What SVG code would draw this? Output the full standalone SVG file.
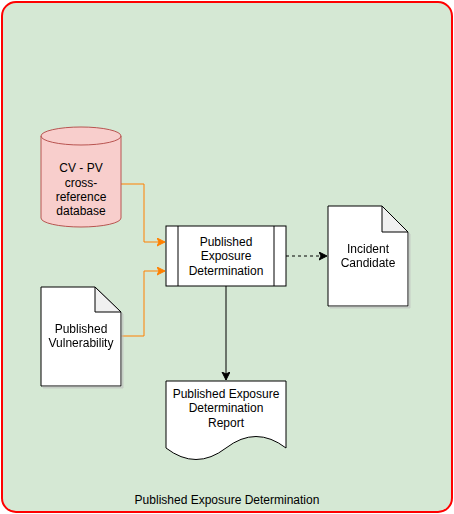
<svg xmlns="http://www.w3.org/2000/svg" width="454" height="514" viewBox="0 0 454 514">
<style>
text{font-family:"Liberation Sans",Arial,sans-serif;font-size:12px;fill:#000;text-anchor:middle}
.doc{fill:#fff;stroke:#000;stroke-width:1}
.fold{fill:#f0f0f0;stroke:#000;stroke-width:1}
.orange{fill:none;stroke:#ff8000;stroke-width:1}
</style>
<defs>
<marker id="ao" markerWidth="10" markerHeight="10" refX="8" refY="4" orient="auto" markerUnits="userSpaceOnUse"><path d="M0,0 L8,4 L0,8 L2,4 Z" fill="#ff8000" stroke="#ff8000"/></marker>
<marker id="ab" markerWidth="10" markerHeight="10" refX="8" refY="4" orient="auto" markerUnits="userSpaceOnUse"><path d="M0,0 L8,4 L0,8 L2,4 Z" fill="#000" stroke="#000"/></marker>
<filter id="sh" x="-10%" y="-10%" width="130%" height="130%"><feOffset dx="2" dy="2" in="SourceAlpha" result="o"/><feColorMatrix in="o" type="matrix" values="0 0 0 0 0.5 0 0 0 0 0.5 0 0 0 0 0.5 0 0 0 0.6 0" result="c"/><feMerge><feMergeNode in="c"/><feMergeNode in="SourceGraphic"/></feMerge></filter>
</defs>
<g id="frame">
<rect x="2" y="2" width="450" height="510" rx="14" ry="14" fill="#d5e8d4" stroke="#ff0000" stroke-width="2"/>
<text x="227" y="504">Published Exposure Determination</text>
</g>
<g id="connectors">
<path class="orange" d="M121,184 H144 V242 H165" marker-end="url(#ao)"/>
<path class="orange" d="M121,336 H144 V271 H165" marker-end="url(#ao)"/>
<path d="M286,256 H327" fill="none" stroke="#000" stroke-dasharray="3,3" marker-end="url(#ab)"/>
<path d="M226,286 V380" fill="none" stroke="#000" marker-end="url(#ab)"/>
</g>
<g id="db">
<path d="M41,136 A40,9 0 0 1 121,136 V218 A40,9 0 0 1 41,218 Z" fill="#f8cecc" stroke="#b85450"/>
<path d="M41,136 A40,9 0 0 0 121,136" fill="none" stroke="#b85450"/>
<text x="81" y="172">CV - PV</text>
<text x="81" y="187">cross-</text>
<text x="81" y="201">reference</text>
<text x="81" y="215">database</text>
</g>
<g id="process">
<rect x="166" y="226" width="120" height="60" fill="#fff" stroke="#000"/>
<line x1="178" y1="226" x2="178" y2="286" stroke="#000"/>
<line x1="274" y1="226" x2="274" y2="286" stroke="#000"/>
<text x="226" y="246">Published</text>
<text x="226" y="260">Exposure</text>
<text x="226" y="275">Determination</text>
</g>
<g id="vuln" filter="url(#sh)">
<path class="doc" d="M41,287 H95 L121,312 V386 H41 Z"/>
<path class="fold" d="M95,287 V312 H121 Z"/>
<text x="81" y="333">Published</text>
<text x="81" y="347">Vulnerability</text>
</g>
<g id="incident" filter="url(#sh)">
<path class="doc" d="M328,206 H382 L408,232 V306 H328 Z"/>
<path class="fold" d="M382,206 V232 H408 Z"/>
<text x="368" y="253">Incident</text>
<text x="368" y="267">Candidate</text>
</g>
<g id="report">
<path d="M166,381 H286 V448 Q256,425 226,448 Q196,471 166,448 Z" fill="#fff" stroke="#000"/>
<text x="226" y="398">Published Exposure</text>
<text x="226" y="412">Determination</text>
<text x="226" y="427">Report</text>
</g>
</svg>
